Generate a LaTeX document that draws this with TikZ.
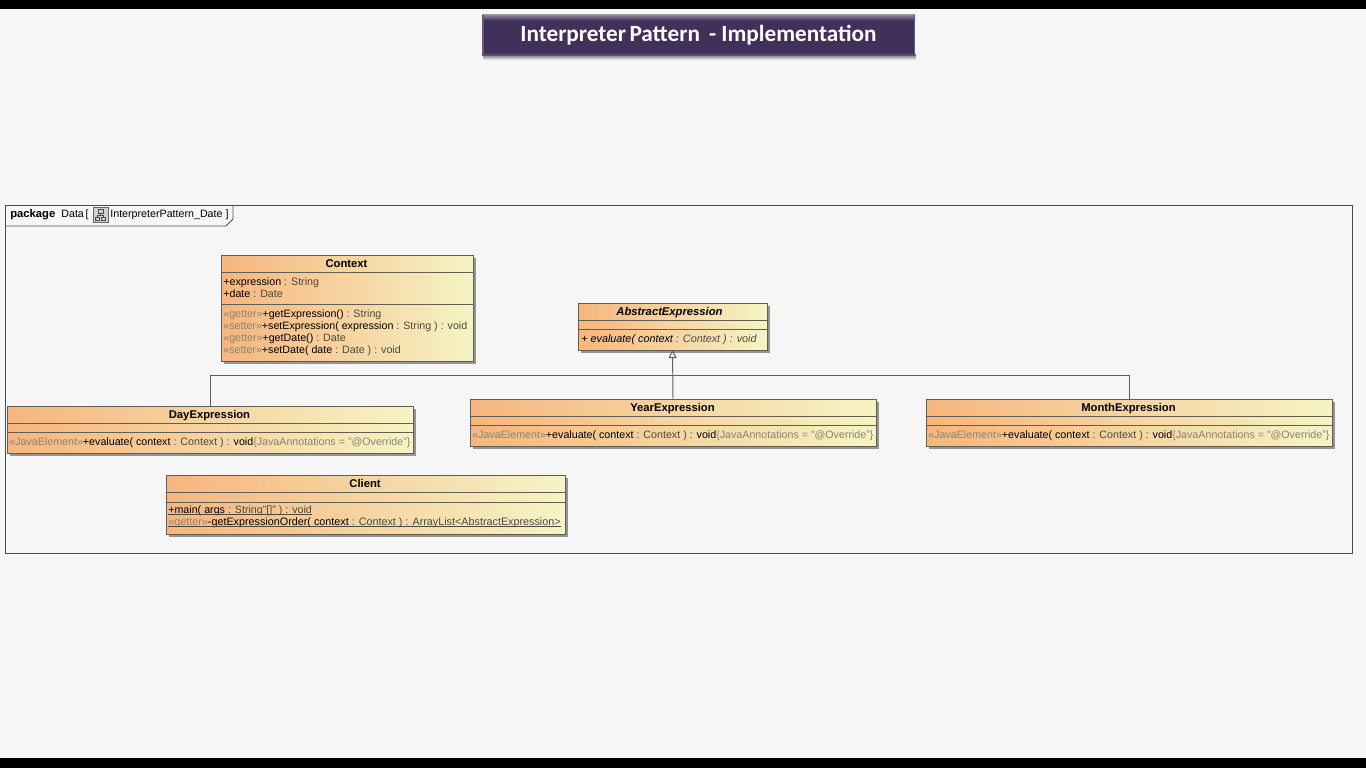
\documentclass[tikz,border=0pt]{standalone}
\usepackage{fontspec}
\setmainfont{Liberation Sans}
\newfontfamily\titlefont{Carlito}
\usetikzlibrary{arrows.meta,calc}
\definecolor{pagegray}{HTML}{F6F6F6}
\definecolor{boxorange}{HTML}{F6B57E}
\definecolor{boxyellow}{HTML}{F6F4C4}
\definecolor{titlepurple}{HTML}{41305A}
\definecolor{greytext}{HTML}{8A8272}
\definecolor{typetext}{HTML}{4A4A40}
\definecolor{edgegray}{HTML}{5F5F55}
\newcommand{\stereo}[1]{\textcolor{greytext}{#1}}
\newcommand{\typed}[1]{\textcolor{typetext}{#1}}
\newcommand{\override}{\stereo{«JavaElement»}+evaluate( context \typed{: Context ) :} void\stereo{\{JavaAnnotations = "@Override"\}}}
\tikzset{
	classbox/.style={draw=edgegray,line width=0.5pt,left color=boxorange,right color=boxyellow,inner sep=0pt,outer sep=0pt,anchor=north west},
	classname/.style={font=\fontsize{6.4}{7.5}\selectfont\bfseries,inner sep=0pt,anchor=base},
	member/.style={font=\fontsize{6.08}{7.5}\selectfont,inner sep=0pt,anchor=base west},
	genline/.style={draw=edgegray,line width=0.55pt},
	shadowbox/.style={fill=black!42,draw=none}
}
\begin{document}
\begin{tikzpicture}[x=0.02cm,y=-0.02cm,line join=miter]
	\useasboundingbox (0,0) rectangle (1366,768);
	% Nền và hai dải đen
	\fill[pagegray] (0,0) rectangle (1366,768);
	\fill[black] (0,0) rectangle (1366,8.5);
	\fill[black] (0,758) rectangle (1366,768);
	% Tiêu đề
	\shade[top color=black!60,bottom color=pagegray] (483,54) rectangle (916,60);
	\node[fill=titlepurple,inner sep=0pt,outer sep=0pt,minimum width=433*0.02cm,minimum height=41*0.02cm,text=white,font=\fontsize{13.2}{16}\selectfont\titlefont\bfseries] (title) at (698.5,35) {\raisebox{-1.6pt}{Interpreter\kern-1pt\ Pattern\, - Implementation}};
	\shade[top color=titlepurple!55!white,bottom color=titlepurple] (title.north west) rectangle ($(title.north east)+(0,6)$);
	\fill[titlepurple!80!white] (title.north west) rectangle ($(title.south west)+(1.5,0)$);
	\fill[titlepurple!80!white] (title.north east) rectangle ($(title.south east)+(-1.5,0)$);
	\fill[titlepurple!85!white] ($(title.south west)+(0,-1.5)$) rectangle (title.south east);
	% Khung package
	\draw[edgegray!80!black,line width=0.55pt] (5,205) rectangle (1352,553.5);
	\draw[edgegray!80!black,line width=0.55pt] (5,226) -- (226,226) -- (233,219) -- (233,205);
	\node[font=\fontsize{6.4}{7.5}\selectfont\bfseries,inner sep=0pt,anchor=base west] (pkgword) at (10,217) {package};
	\node[member] (pkgname) at (61,217) {Data\,[};
	\node[member] (pkgdiagram) at (110,217) {InterpreterPattern\_Date ]};
	% Biểu tượng sơ đồ
	\draw[black!60,fill=black!18,line width=0.4pt] (93,207) rectangle (108,222);
	\draw[black!70,line width=0.4pt] (98,209) rectangle (103,213) (95.5,217) rectangle (99.5,220.5) (101.5,217) rectangle (105.5,220.5) (100.5,213) -- (100.5,215) (97.5,217) -- (97.5,215) -- (103.5,215) -- (103.5,217);
	% Bóng của các lớp
	\foreach \xa/\ya/\xb/\yb in {221/255/473/361,578/303/767/350,470/399/876/446,926/399/1332/446,7/406/413/453,166/475/565/534}{
		\fill[shadowbox] (\xa+3,\ya+3) rectangle (\xb+2.5,\yb+2.5);
	}
	% Các lớp
	\foreach \t/\g/\xa/\ya/\w/\h in {context/Context/221/255/252/106,yearexpr/YearExpression/470/399/406/47,monthexpr/MonthExpression/926/399/406/47,dayexpr/DayExpression/7/406/406/47,client/Client/166/475/399/59}{
		\node[classbox,minimum width=\w*0.02cm,minimum height=\h*0.02cm] (\t) at (\xa,\ya) {};
		\node[classname] (\t name) at ($(\t.north)+(-0.5,12)$) {\g};
	}
	\node[classbox,minimum width=189*0.02cm,minimum height=47*0.02cm] (abstractexpr) at (578,303) {};
	\node[classname,font=\fontsize{6.4}{7.5}\selectfont\bfseries\itshape] (abstractexpr name) at ($(abstractexpr.north)+(-3,12)$) {AbstractExpression};
	% Các vạch ngăn
	\foreach \t/\a/\b in {context/17/49,abstractexpr/17.5/26,yearexpr/17.5/26,monthexpr/17.5/26,dayexpr/17.5/26,client/17.5/27}{
		\draw[edgegray,line width=0.45pt] ($(\t.north west)+(0,\a)$) -- ($(\t.north east)+(0,\a)$);
		\draw[edgegray,line width=0.45pt] ($(\t.north west)+(0,\b)$) -- ($(\t.north east)+(0,\b)$);
	}
	% Thành phần của Context
	\node[member] (ctxattra) at (223,285) {+expression \typed{: String}};
	\node[member] (ctxattrb) at (223,297) {+date \typed{: Date}};
	\node[member] (ctxopa) at (223,317) {\stereo{«getter»}+getExpression() \typed{: String}};
	\node[member] (ctxopb) at (223,329) {\stereo{«setter»}+setExpression( expression \typed{: String ) : void}};
	\node[member] (ctxopc) at (223,341) {\stereo{«getter»}+getDate() \typed{: Date}};
	\node[member] (ctxopd) at (223,353) {\stereo{«setter»}+setDate( date \typed{: Date ) : void}};
	% Thành phần của các lớp khác
	\node[member,font=\fontsize{6.15}{7.5}\selectfont\itshape] (absop) at (581,342) {+ evaluate( context \typed{: Context ) : void}};
	\node[member] (yearop) at (472,438) {\override};
	\node[member] (monthop) at (928,438) {\override};
	\node[member] (dayop) at (9,445) {\override};
	\node[member] (clienta) at (168,513.5) {+main( args \typed{: String"[]" ) : void}};
	\node[member,font=\fontsize{6.14}{7.5}\selectfont] (clientb) at (168,525.5) {\stereo{«getter»}-getExpressionOrder( context \typed{: Context ) : ArrayList<AbstractExpression>}};
	% Gạch chân của Client
	\foreach \t in {clienta,clientb}{
		\draw[typetext,line width=0.4pt] ($(\t.base west)+(0,1.2)$) -- ($(\t.base east)+(0,1.2)$);
	}
	% Quan hệ kế thừa
	\coordinate (joint) at (672.5,375.3);
	\draw[genline,-{Triangle[open,length=4.6pt,width=4.6pt]}] (yearexpr.north) -- (abstractexpr.south);
	\draw[genline] (dayexpr.north) |- (joint) -| (monthexpr.north);
\end{tikzpicture}
\end{document}
